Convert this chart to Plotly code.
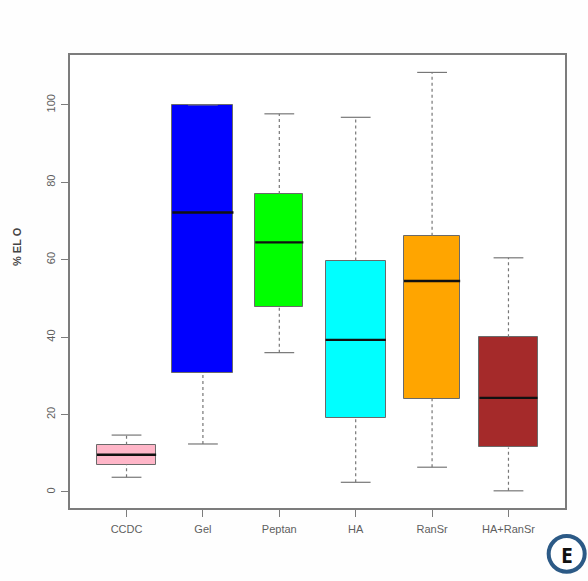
import plotly.graph_objects as go

categories = ["CCDC", "Gel", "Peptan", "HA", "RanSr", "HA+RanSr"]
positions = [1, 2, 3, 4, 5, 6]
lower = [3.8, 12.4, 36.0, 2.5, 6.4, 0.3]
q1 = [7.1, 30.8, 47.8, 19.0, 24.0, 11.5]
median = [9.6, 72.2, 64.5, 39.3, 54.5, 24.3]
q3 = [12.2, 100.0, 77.0, 59.8, 66.2, 40.0]
upper = [14.7, 100.0, 97.7, 96.8, 108.4, 60.5]
widths = [0.775, 0.80, 0.63, 0.79, 0.735, 0.76]
colors = ["#ffb6c8", "#0000ff", "#00ff00", "#00ffff", "#ffa500", "#a52a2a"]
y_ticks = [0, 20, 40, 60, 80, 100]
CAP = 0.39
GREY = "#5f5f5f"

fig = go.Figure()

# Whiskers (dashed) and caps (solid), below the boxes
wx, wy, cx, cy = [], [], [], []
for p, lo, a, b, hi in zip(positions, lower, q1, q3, upper):
    wx += [p, p, None, p, p, None]
    wy += [lo, a, None, b, hi, None]
    cx += [p - CAP / 2, p + CAP / 2, None, p - CAP / 2, p + CAP / 2, None]
    cy += [lo, lo, None, hi, hi, None]
fig.add_trace(go.Scatter(x=wx, y=wy, mode="lines",
                         line=dict(color="#777777", width=1.2, dash="3px,3px")))
fig.add_trace(go.Scatter(x=cx, y=cy, mode="lines",
                         line=dict(color="#777777", width=1.2)))

# Boxes
fig.add_trace(go.Bar(x=positions, y=[b - a for a, b in zip(q1, q3)], base=q1,
                     width=widths, marker=dict(color=colors,
                                               line=dict(color="#6a6a6a", width=1))))

# Medians
mx, my = [], []
for p, w, m in zip(positions, widths, median):
    mx += [p - w / 2, p + w / 2, None]
    my += [m, m, None]
fig.add_trace(go.Scatter(x=mx, y=my, mode="lines",
                         line=dict(color="#111111", width=2.4)))

axis_line = dict(showline=True, mirror=True, linecolor="#7c7c7c", linewidth=1.5,
                 showgrid=False, zeroline=False, ticks="outside", ticklen=7,
                 tickwidth=1.2, tickcolor="#7c7c7c",
                 tickfont=dict(family="Liberation Sans", size=11, color=GREY))

fig.update_xaxes(range=[0.26, 6.74], tickvals=positions, ticktext=categories,
                 ticklabelstandoff=3, **axis_line)
fig.update_yaxes(range=[-4.14, 112.9], tickvals=y_ticks, tickangle=-90,
                 ticklabelstandoff=2, **axis_line)

fig.update_layout(
    width=588, height=581, showlegend=False, bargap=0,
    margin=dict(l=70, r=23, t=55, b=73, autoexpand=False),
    paper_bgcolor="#fefefe", plot_bgcolor="#ffffff",
    annotations=[
        dict(text="<b>% EL O</b>", textangle=-90, xref="paper", yref="y",
             x=-0.107, y=63.3, xanchor="center", yanchor="middle", showarrow=False,
             font=dict(family="Liberation Sans", size=11, color="#444444")),
        dict(text="<b>E</b>", xref="paper", yref="paper", x=1.0034, y=-0.1038,
             xanchor="center", yanchor="middle", showarrow=False,
             font=dict(family="Open Sans", size=21, color="#111111")),
    ],
    shapes=[
        dict(type="circle", xref="paper", yref="paper",
             x0=0.967, x1=1.0398, y0=-0.1406, y1=-0.0618,
             line=dict(color="#2c5a86", width=4), fillcolor="#ffffff"),
    ],
)

fig.write_html("out.html", config=dict(displayModeBar=False),
               post_script="document.body.style.margin='0';document.body.style.overflow='hidden';")
